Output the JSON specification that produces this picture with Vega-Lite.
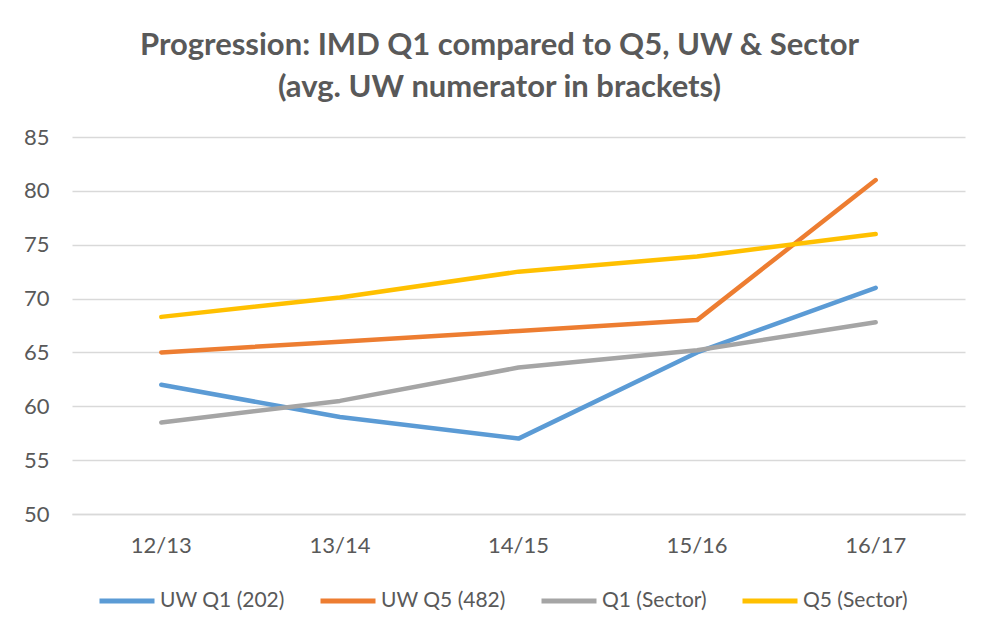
{
  "$schema": "https://vega.github.io/schema/vega-lite/v6.json",
  "autosize": "none",
  "width": 893,
  "height": 377,
  "padding": {"left": 72, "top": 137, "right": 27, "bottom": 121},
  "background": "white",
  "title": {
    "text": ["Progression: IMD Q1 compared to Q5, UW & Sector", "(avg. UW numerator in brackets)"],
    "fontSize": 31,
    "fontWeight": "bold",
    "font": "Lato",
    "color": "#595959",
    "anchor": "middle",
    "lineHeight": 42,
    "offset": 22,
    "dx": -19
  },
  "data": {
    "values": [
      {"year": "12/13", "series": "UW Q1 (202)", "value": 62},
      {"year": "13/14", "series": "UW Q1 (202)", "value": 59},
      {"year": "14/15", "series": "UW Q1 (202)", "value": 57},
      {"year": "15/16", "series": "UW Q1 (202)", "value": 65},
      {"year": "16/17", "series": "UW Q1 (202)", "value": 71},
      {"year": "12/13", "series": "UW Q5 (482)", "value": 65},
      {"year": "13/14", "series": "UW Q5 (482)", "value": 66},
      {"year": "14/15", "series": "UW Q5 (482)", "value": 67},
      {"year": "15/16", "series": "UW Q5 (482)", "value": 68},
      {"year": "16/17", "series": "UW Q5 (482)", "value": 81},
      {"year": "12/13", "series": "Q1 (Sector)", "value": 58.5},
      {"year": "13/14", "series": "Q1 (Sector)", "value": 60.5},
      {"year": "14/15", "series": "Q1 (Sector)", "value": 63.6},
      {"year": "15/16", "series": "Q1 (Sector)", "value": 65.2},
      {"year": "16/17", "series": "Q1 (Sector)", "value": 67.8},
      {"year": "12/13", "series": "Q5 (Sector)", "value": 68.3},
      {"year": "13/14", "series": "Q5 (Sector)", "value": 70.1},
      {"year": "14/15", "series": "Q5 (Sector)", "value": 72.5},
      {"year": "15/16", "series": "Q5 (Sector)", "value": 73.9},
      {"year": "16/17", "series": "Q5 (Sector)", "value": 76}
    ]
  },
  "mark": {"type": "line", "strokeWidth": 4.5, "strokeCap": "round", "strokeJoin": "round"},
  "encoding": {
    "x": {
      "field": "year", "type": "nominal", "sort": null,
      "scale": {"type": "band", "paddingInner": 0, "paddingOuter": 0},
      "axis": {"title": null, "labelAngle": 0, "ticks": false, "domainColor": "#d9d9d9", "domainWidth": 1.5, "labelPadding": 21, "grid": false}
    },
    "y": {
      "field": "value", "type": "quantitative",
      "scale": {"domain": [50, 85], "nice": false, "zero": false},
      "axis": {"title": null, "values": [50, 55, 60, 65, 70, 75, 80, 85], "ticks": false, "domain": false, "labelPadding": 23, "gridColor": "#d9d9d9", "gridWidth": 1.5}
    },
    "color": {
      "field": "series", "type": "nominal",
      "sort": ["UW Q1 (202)", "UW Q5 (482)", "Q1 (Sector)", "Q5 (Sector)"],
      "scale": {"domain": ["UW Q1 (202)", "UW Q5 (482)", "Q1 (Sector)", "Q5 (Sector)"], "range": ["#5B9BD5", "#ED7D31", "#A5A5A5", "#FFC000"]},
      "legend": {
        "title": null, "orient": "none", "direction": "horizontal",
        "legendX": 25, "legendY": 434,
        "symbolType": "stroke", "symbolSize": 3025, "symbolStrokeWidth": 5,
        "columnPadding": 25, "labelFontSize": 21, "labelColor": "#595959", "labelFont": "Lato",
        "labelOffset": 3
      }
    }
  },
  "config": {
    "view": {"stroke": null},
    "axis": {"labelFontSize": 22, "labelColor": "#595959", "labelFont": "Lato"}
  }
}
